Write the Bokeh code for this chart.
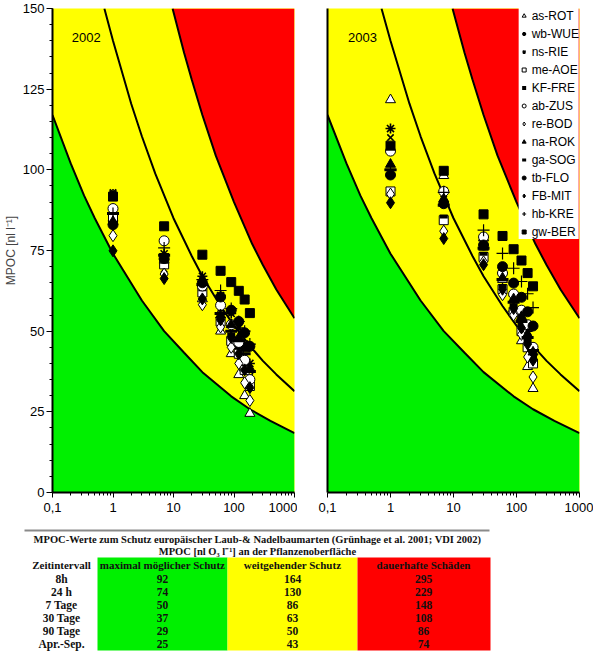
from bokeh.plotting import figure
from bokeh.models import (FixedTicker, CustomJSTickFormatter, Label, Legend, LegendItem,
                          Range1d)
from bokeh.layouts import column, row
from bokeh.embed import file_html
from bokeh.resources import INLINE
from bokeh.core.properties import value

# ---------------- data ----------------
DAYS = [1, 7, 30, 60, 90, 120, 150, 183]
SERIES = ["as-ROT", "wb-WUE", "ns-RIE", "me-AOE", "KF-FRE", "ab-ZUS", "re-BOD",
          "na-ROK", "ga-SOG", "tb-FLO", "FB-MIT", "hb-KRE", "gw-BER"]

# 2002
Y02_AS_ROT = [85, 72, 60, 50, 43, 36.5, 30, 24.5]
Y02_WB_WUE = [92.5, 74, 67, 61, 55.5, 51, 46, 40]
Y02_NS_RIE = [93, 69.2, 66, 57, 52, 47, 42, 36]
Y02_ME_AOE = [85, 70.7, 62, 53, 47, 43, 38, 33]
Y02_KF_FRE = [83, 71.5, 63, 54, 49, 45, 40, 35]
Y02_AB_ZUS = [88, 78, 64, 58, 52, 46.5, 41, 35]
Y02_RE_BOD = [79.6, 67.7, 58.2, 51.3, 45, 40, 34, 28.5]
Y02_NA_ROK = [84, 73, 65.5, 55, 52, 48, 44.5, 38.5]
Y02_GA_SOG = [86.5, 73.5, 64.5, 55.5, 50, 47, 43, 37.5]
Y02_TB_FLO = [83, 72.5, 65, 60.6, 56.5, 53, 49.5, 45.3]
Y02_FB_MIT = [74.9, 66.3, 60, 53.5, 48, 43, 38, 32.5]
Y02_HB_KRE = [86.5, 75.8, 66, 62.6, 57, 53, 50, 46]
Y02_GW_BER = [91.7, 82.5, 73.7, 68.7, 65.2, 62.5, 59.8, 55.6]

# 2003
Y03_AS_ROT = [121.7, 98.2, 79, 66, 57, 47, 39, 32.2]
Y03_WB_WUE = [112.8, 93.5, 78, 68, 61, 55, 50, 45]
Y03_NS_RIE = [110, 91, 77, 67, 60, 54, 48, 43]
Y03_ME_AOE = [93.3, 84.4, 73, 63, 56, 50, 45, 40]
Y03_KF_FRE = [107.5, 85.5, 74, 64, 58, 52, 47, 42]
Y03_AB_ZUS = [105.8, 93.3, 79.2, 68, 61.5, 56.5, 52, 45]
Y03_RE_BOD = [92.5, 81, 71.5, 61.3, 55, 49, 42, 35.8]
Y03_NA_ROK = [101.7, 91, 76, 66.5, 60, 54.5, 49, 43.5]
Y03_GA_SOG = [100, 89, 75.7, 66, 59, 53, 48, 44]
Y03_TB_FLO = [98.4, 89.5, 76.7, 70, 64.9, 60.5, 56, 51.6]
Y03_FB_MIT = [89.8, 78.7, 70.6, 63, 57, 51, 46, 41]
Y03_HB_KRE = [100, 93, 81.3, 74.1, 69.5, 65.4, 61.6, 57.3]
Y03_GW_BER = [107.5, 99.7, 86.2, 79.5, 75.4, 71.9, 68, 63.9]

# threshold curves
T_LOW = [0.1, 0.2, 0.333, 0.5, 1, 3, 7, 15, 30, 90, 183, 400, 1000]
V_LOW = [117, 102, 92, 85, 74, 59.5, 50, 43.3, 37.3, 29.8, 25.8, 22.2, 18.4]
T_MID = [0.72, 1, 2, 3, 5, 10, 20, 30, 60, 100, 200, 300, 500, 1000]
V_MID = [150, 140, 120.5, 110.4, 98.8, 85, 73.3, 67, 57.8, 51.7, 44.6, 40.8, 36.6, 31.4]
T_HIGH = [9.65, 15, 20, 30, 50, 100, 200, 300, 500, 1000]
V_HIGH = [150, 136.2, 128, 117, 104.4, 90, 77, 70.5, 62.9, 54]

X_TICKS = [0.1, 1, 10, 100, 1000]
Y_TICKS = [0, 25, 50, 75, 100, 125, 150]

# table
TABLE_TITLE1 = "MPOC-Werte zum Schutz europäischer Laub-& Nadelbaumarten (Grünhage et al. 2001; VDI 2002)"
TABLE_TITLE2 = "MPOC [nl O₃ l⁻¹] an der Pflanzenoberfläche"
TABLE_HEADERS = ["Zeitintervall", "maximal möglicher Schutz", "weitgehender Schutz", "dauerhafte Schäden"]
TABLE_INTERVALS = ["8h", "24 h", "7 Tage", "30 Tage", "90 Tage", "Apr.-Sep."]
TABLE_MAX = [92, 74, 50, 37, 29, 25]
TABLE_WEIT = [164, 130, 86, 63, 50, 43]
TABLE_DAUER = [295, 229, 148, 108, 86, 74]

DATA_2002 = dict(zip(SERIES, [Y02_AS_ROT, Y02_WB_WUE, Y02_NS_RIE, Y02_ME_AOE, Y02_KF_FRE,
                              Y02_AB_ZUS, Y02_RE_BOD, Y02_NA_ROK, Y02_GA_SOG, Y02_TB_FLO,
                              Y02_FB_MIT, Y02_HB_KRE, Y02_GW_BER]))
DATA_2003 = dict(zip(SERIES, [Y03_AS_ROT, Y03_WB_WUE, Y03_NS_RIE, Y03_ME_AOE, Y03_KF_FRE,
                              Y03_AB_ZUS, Y03_RE_BOD, Y03_NA_ROK, Y03_GA_SOG, Y03_TB_FLO,
                              Y03_FB_MIT, Y03_HB_KRE, Y03_GW_BER]))

# ---------------- styles ----------------
GREEN = "#00f000"
YELLOW = "#ffff00"
RED = "#ff0000"
SANS = "Liberation Sans"
SERIF = "Liberation Serif"

MARKERS = {
    "as-ROT": dict(marker="triangle", size=10, fill_color="white", line_width=1),
    "wb-WUE": dict(marker="asterisk", size=10, fill_color=None, line_width=1.6),
    "ns-RIE": dict(marker="x", size=9, fill_color=None, line_width=1.6),
    "me-AOE": dict(marker="square", size=9, fill_color="white", line_width=1),
    "KF-FRE": dict(marker="dash", size=8, fill_color=None, line_width=4),
    "ab-ZUS": dict(marker="circle", size=10, fill_color="white", line_width=1),
    "re-BOD": dict(marker="diamond", size=12, fill_color="white", line_width=1),
    "na-ROK": dict(marker="triangle", size=10, fill_color="black", line_width=1),
    "ga-SOG": dict(marker="dash", size=12, fill_color=None, line_width=3),
    "tb-FLO": dict(marker="circle", size=10, fill_color="black", line_width=1),
    "FB-MIT": dict(marker="diamond", size=12, fill_color="black", line_width=1),
    "hb-KRE": dict(marker="cross", size=12, fill_color=None, line_width=1.2),
    "gw-BER": dict(marker="square", size=9, fill_color="black", line_width=1),
}


def minor_log():
    out = []
    for d in [0.1, 1, 10, 100]:
        out += [d * k for k in range(2, 10)]
    return out


def make_panel(data, year, show_y, left, right, fw, fh):
    p = figure(x_axis_type="log", x_range=Range1d(0.1, 1000), y_range=Range1d(0, 150),
               frame_width=fw, frame_height=fh, output_backend="svg", toolbar_location=None,
               min_border_top=8, min_border_left=left, min_border_right=right,
               min_border_bottom=24)
    p.background_fill_color = YELLOW
    p.border_fill_color = "white"
    p.outline_line_color = None
    p.xgrid.visible = False
    p.ygrid.visible = False

    p.varea(x=T_LOW, y1=[0] * len(T_LOW), y2=V_LOW, fill_color=GREEN)
    p.varea(x=T_HIGH, y1=V_HIGH, y2=[150] * len(T_HIGH), fill_color=RED)
    p.line(T_LOW, V_LOW, line_color="black", line_width=2)
    p.line(T_MID, V_MID, line_color="black", line_width=2)
    p.line(T_HIGH, V_HIGH, line_color="black", line_width=2)

    rends = {}
    for name in SERIES:
        m = MARKERS[name]
        rends[name] = p.scatter(DAYS, data[name], marker=m["marker"], size=m["size"],
                                fill_color=m["fill_color"], line_color="black",
                                line_width=m["line_width"])

    xa = p.xaxis[0]
    xa.ticker = FixedTicker(ticks=X_TICKS, minor_ticks=minor_log())
    xa.formatter = CustomJSTickFormatter(code="return tick < 0.5 ? '0,1' : String(Math.round(tick));")
    xa.axis_line_width = 2
    xa.major_tick_out = 5
    xa.major_tick_in = 0
    xa.minor_tick_out = 3
    xa.minor_tick_in = 0
    xa.major_label_text_font = SANS
    xa.major_label_text_font_size = "13px"
    xa.major_label_text_color = "black"
    xa.major_label_standoff = 5

    ya = p.yaxis[0]
    ya.axis_line_width = 2
    if show_y:
        ya.ticker = FixedTicker(ticks=Y_TICKS, minor_ticks=list(range(0, 151, 5)))
        ya.major_tick_out = 6
        ya.major_tick_in = 0
        ya.minor_tick_out = 3
        ya.minor_tick_in = 0
        ya.major_label_text_font = SANS
        ya.major_label_text_font_size = "13px"
        ya.major_label_text_color = "black"
        ya.major_label_standoff = 2
        ya.axis_label = "MPOC [nl l⁻¹]"
        ya.axis_label_text_font = SANS
        ya.axis_label_text_font_size = "12px"
        ya.axis_label_text_font_style = "normal"
        ya.axis_label_standoff = 2
    else:
        ya.ticker = FixedTicker(ticks=[])
        ya.major_tick_out = 0
        ya.minor_tick_out = 0
        ya.major_label_text_font_size = "0px"

    p.add_layout(Label(x=0.36, y=141, text=year, text_align="center", text_baseline="middle",
                       text_font=SANS, text_font_size="13px", text_color="black"))
    return p, rends


p1, _ = make_panel(DATA_2002, "2002", True, 45, 3, 242, 484)
p1.add_layout(Label(x=-45, y=-17, x_units="screen", y_units="screen", text="Tage",
                    text_align="left", text_baseline="middle", text_font=SANS,
                    text_font_size="13px", text_color="black"))

p2, rends2 = make_panel(DATA_2003, "2003", False, 30, 14, 252, 484)
legend = Legend(items=[LegendItem(label=n, renderers=[rends2[n]]) for n in SERIES],
                location="top_right")
legend.background_fill_color = "white"
legend.background_fill_alpha = 1
legend.border_line_color = None
legend.padding = 3
legend.margin = 0
legend.spacing = 3
legend.glyph_height = 15
legend.label_height = 15
legend.glyph_width = 10
legend.label_standoff = 3
legend.label_text_font = SANS
legend.label_text_font_size = "12px"
legend.label_text_color = "black"
p2.add_layout(legend)

# ---------------- table ----------------
TW, TH = 586, 138
pt = figure(width=TW, height=TH, x_range=Range1d(0, TW), y_range=Range1d(TH, 0),
            output_backend="svg", toolbar_location=None, min_border=0,
            min_border_left=0, min_border_right=0, min_border_top=0, min_border_bottom=0)
pt.axis.visible = False
pt.xgrid.visible = False
pt.ygrid.visible = False
pt.outline_line_color = None
pt.background_fill_color = "white"

pt.line([24, 489], [14, 14], line_color="#8a8a8a", line_width=2)
pt.quad(left=[97, 227, 357], right=[227, 357, 490], top=[41, 41, 41],
        bottom=[134, 134, 134], fill_color=[GREEN, YELLOW, RED], line_color=None)

tfont = value(SERIF)
pt.text(x=[257, 257], y=[23, 35], text=[TABLE_TITLE1, TABLE_TITLE2], text_font=tfont,
        text_font_style="bold", text_font_size="10.5px", text_align="center",
        text_baseline="middle", text_color="#111111")
COL_X = [61, 162, 292, 423]
ROW_Y = [48.5, 62, 75, 88, 101, 114, 127]
pt.text(x=COL_X, y=[ROW_Y[0]] * 4, text=TABLE_HEADERS, text_font=tfont,
        text_font_style="bold", text_font_size="11px", text_align="center",
        text_baseline="middle", text_color="#111111")
for ci, col in enumerate([TABLE_INTERVALS, TABLE_MAX, TABLE_WEIT, TABLE_DAUER]):
    pt.text(x=[COL_X[ci]] * len(col), y=ROW_Y[1:], text=[str(v) for v in col],
            text_font=tfont, text_font_style="bold", text_font_size="11.5px",
            text_align="center", text_baseline="middle", text_color="#111111")

layout = column(row(p1, p2, spacing=0), pt, spacing=0)
open("out.html", "w").write(file_html(layout, INLINE))
